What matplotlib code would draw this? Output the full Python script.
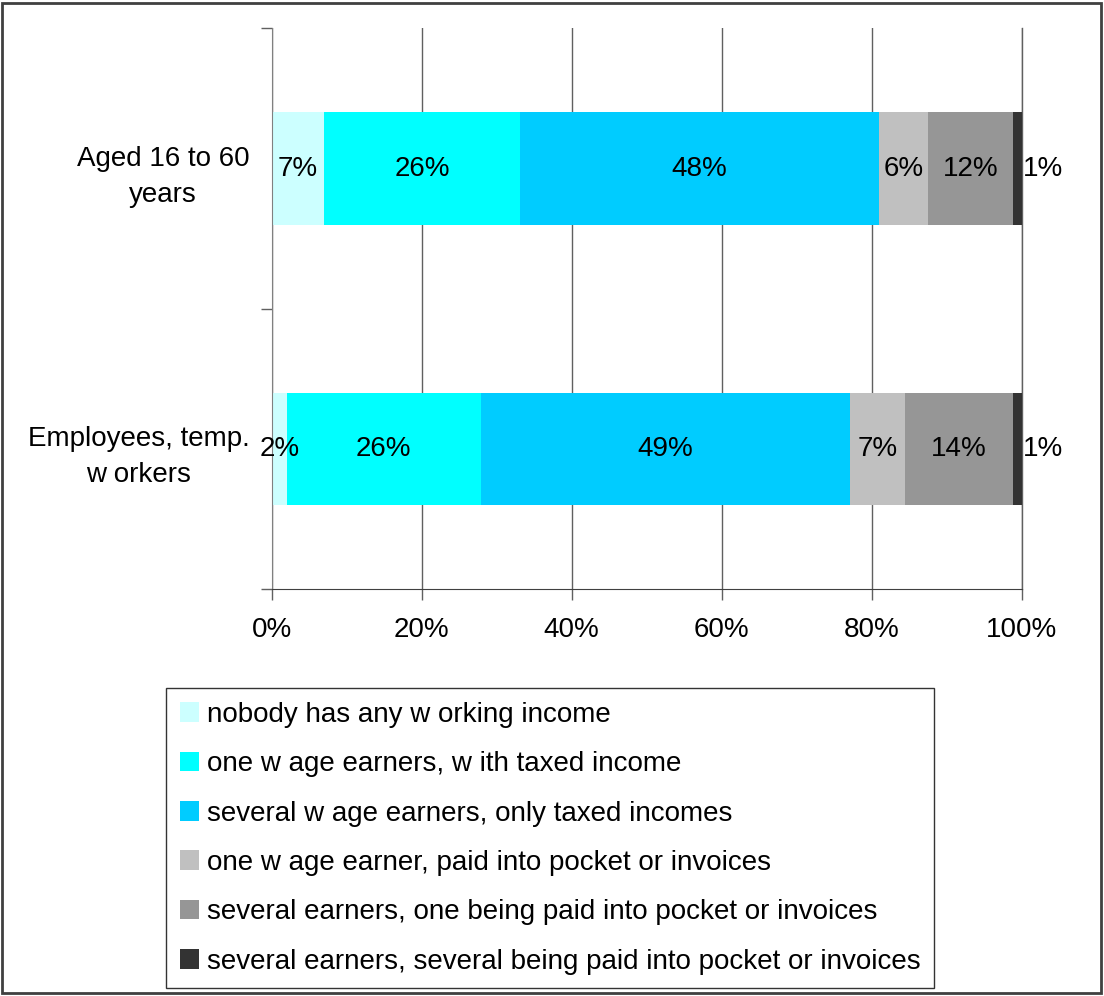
import numpy as np
import matplotlib
matplotlib.use('Agg')
import matplotlib.pyplot as plt
from matplotlib.patches import Rectangle

plt.rcParams['font.family'] = ['Liberation Sans', 'DejaVu Sans']

# data (segment widths in %, labels as printed)
categories = ['Aged 16 to 60\nyears', 'Employees, temp.\nw orkers']
series_names = ['nobody has any w orking income',
                'one w age earners, w ith taxed income',
                'several w age earners, only taxed incomes',
                'one w age earner, paid into pocket or invoices',
                'several earners, one being paid into pocket or invoices',
                'several earners, several being paid into pocket or invoices']
aged = [7.0, 26.1, 47.9, 6.5, 11.3, 1.2]
employees = [2.0, 25.9, 49.2, 7.3, 14.4, 1.2]
aged_labels = ['7%', '26%', '48%', '6%', '12%', '1%']
employees_labels = ['2%', '26%', '49%', '7%', '14%', '1%']
colors = ['#CCFFFF', '#00FFFF', '#00CCFF', '#C0C0C0', '#969696', '#333333']
xticks = [0, 20, 40, 60, 80, 100]

fs = 20

fig = plt.figure(figsize=(11.04, 9.96), dpi=100)
ax = fig.add_axes([0.2461, 0.4083, 0.9254 - 0.2461, 0.9716 - 0.4083])

vals = np.array([aged, employees])
labs = [aged_labels, employees_labels]
ypos = np.arange(len(categories))
left = np.zeros(len(categories))
for k in range(vals.shape[1]):
    ax.barh(ypos, vals[:, k], left=left, height=0.4, color=colors[k],
            label=series_names[k], zorder=2)
    for i in range(len(categories)):
        if k == vals.shape[1] - 1:
            ax.text(left[i] + vals[i, k] + 0.1, ypos[i], labs[i][k],
                    ha='left', va='center', fontsize=fs, zorder=3)
        else:
            ax.text(left[i] + vals[i, k] / 2, ypos[i], labs[i][k],
                    ha='center', va='center', fontsize=fs, zorder=3)
    left = left + vals[:, k]

ax.set_xlim(0, 100)
ax.set_ylim(1.5, -0.5)
ax.set_xticks(xticks)
ax.set_xticklabels([f'{t}%' for t in xticks], fontsize=fs)
ax.set_yticks(ypos)
ax.set_yticklabels(categories, fontsize=fs, multialignment='center',
                   linespacing=1.5)
ax.set_yticks([-0.5, 0.5, 1.5], minor=True)
ax.tick_params(axis='y', which='major', length=0, pad=16)
ax.tick_params(axis='y', which='minor', length=8, color='#606060', width=1)
ax.tick_params(axis='x', length=8, color='#606060', width=1, pad=12)
ax.grid(axis='x', color='#606060', linewidth=1, zorder=0)
ax.axvline(100, color='#606060', linewidth=1, zorder=0, clip_on=False)
ax.set_axisbelow(True)
for s in ['top', 'right']:
    ax.spines[s].set_visible(False)
ax.spines['left'].set_color('#808080')
ax.spines['bottom'].set_color('#404040')

leg = fig.legend(loc='upper left', bbox_to_anchor=(166 / 1104, 1 - 688 / 996),
                 fontsize=fs, frameon=True, fancybox=False, edgecolor='black',
                 handlelength=0.68, handleheight=0.7, handletextpad=0.28,
                 labelspacing=0.84, borderpad=0.5, borderaxespad=0)
leg.get_frame().set_linewidth(1)

fig.patches.append(Rectangle((0.002, 0.003), 0.995, 0.994, transform=fig.transFigure,
                             fill=False, edgecolor='#404040', linewidth=2))

fig.savefig('out.png', dpi=100, facecolor='white')
